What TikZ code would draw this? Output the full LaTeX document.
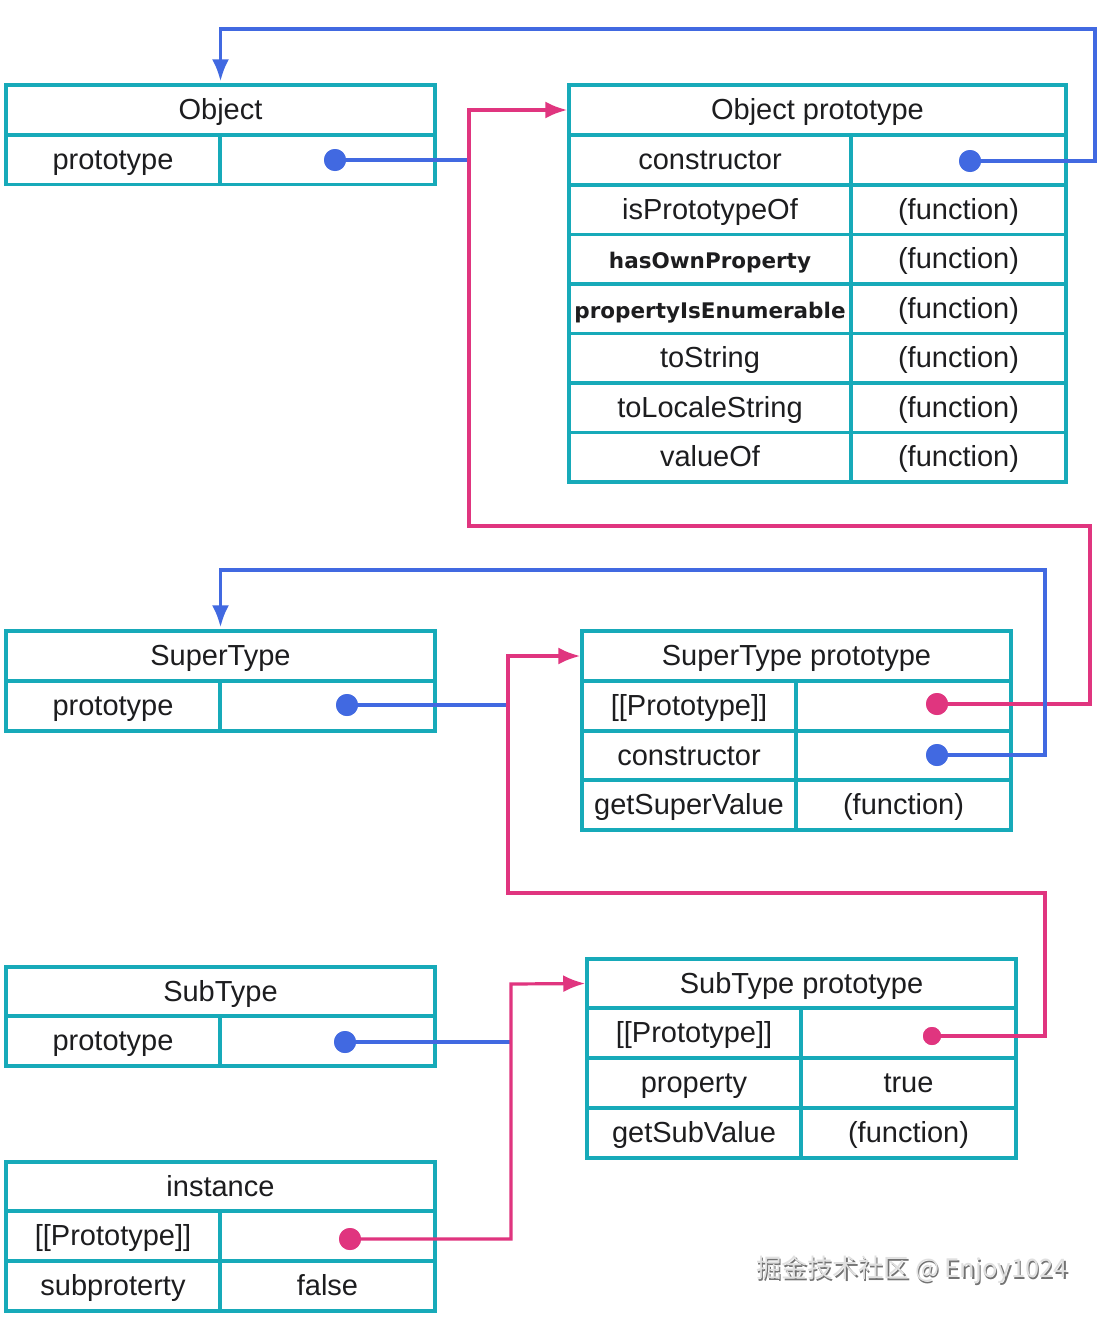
\documentclass[tikz,border=0pt]{standalone}
\usepackage{fontspec}
\setmainfont{Liberation Sans}
\newfontfamily\dvb{DejaVu Sans}
\newfontfamily\cjk{Noto Sans CJK SC}
\usetikzlibrary{arrows.meta}
\definecolor{tealc}{HTML}{17AAB9}
\definecolor{bluec}{HTML}{4169E1}
\definecolor{pinkc}{HTML}{E0357F}
\definecolor{txt}{HTML}{1D1D1F}
\begin{document}
\begin{tikzpicture}[x=1pt,y=-1pt,
  cell/.style={draw=tealc,line width=3.5pt,inner sep=0pt,text=txt,
    text height=22.5pt,text depth=3.5pt,
    font=\fontsize{29}{33}\selectfont},
  hcell/.style={cell,minimum width=429pt,minimum height=50pt},
  lcell/.style={cell,minimum width=214pt,minimum height=50pt},
  rcell/.style={cell,minimum width=215pt,minimum height=50pt},
  bdot/.style={circle,fill=bluec,inner sep=0pt,minimum size=22pt},
  pdot/.style={circle,fill=pinkc,inner sep=0pt,minimum size=22pt},
  bline/.style={draw=bluec,line width=3.2pt},
  pline/.style={draw=pinkc,line width=3.2pt},
  tip/.style={-{Latex[length=22pt,width=17pt]}},
  bf/.style={font=\dvb\bfseries\fontsize{21.5}{24}\selectfont}
]
\useasboundingbox (0,0) rectangle (1099,1317);
\fill[white] (0,0) rectangle (1099,1317);

% Object
\node[hcell] (objh) at (220.5,110) {Object};
\node[lcell,minimum height=49pt] (objk) at (113,160) {prototype};
\node[rcell,minimum height=49pt] (objv) at (327.5,160) {};

% Object prototype
\node[cell,minimum width=497pt,minimum height=50pt] (oph) at (817.5,110) {Object prototype};
\node[cell,minimum width=282pt,minimum height=49.5pt] (opk1) at (710,160) {constructor};
\node[rcell,minimum height=49.5pt] (opv1) at (958.5,160) {};
\node[cell,minimum width=282pt,minimum height=49.5pt] (opk2) at (710,209.5) {isPrototypeOf};
\node[rcell,minimum height=49.5pt] (opv2) at (958.5,209.5) {(function)};
\node[cell,bf,minimum width=282pt,minimum height=49.5pt] (opk3) at (710,259) {hasOwnProperty};
\node[rcell,minimum height=49.5pt] (opv3) at (958.5,259) {(function)};
\node[cell,bf,minimum width=282pt,minimum height=49.5pt] (opk4) at (710,308.5) {propertyIsEnumerable};
\node[rcell,minimum height=49.5pt] (opv4) at (958.5,308.5) {(function)};
\node[cell,minimum width=282pt,minimum height=49.5pt] (opk5) at (710,358) {toString};
\node[rcell,minimum height=49.5pt] (opv5) at (958.5,358) {(function)};
\node[cell,minimum width=282pt,minimum height=49.5pt] (opk6) at (710,407.5) {toLocaleString};
\node[rcell,minimum height=49.5pt] (opv6) at (958.5,407.5) {(function)};
\node[cell,minimum width=282pt,minimum height=49.5pt] (opk7) at (710,457) {valueOf};
\node[rcell,minimum height=49.5pt] (opv7) at (958.5,457) {(function)};

% SuperType
\node[hcell] (sth) at (220.5,656) {SuperType};
\node[lcell] (stk) at (113,706) {prototype};
\node[rcell] (stv) at (327.5,706) {};

% SuperType prototype
\node[hcell] (sph) at (796.5,656) {SuperType prototype};
\node[lcell] (spk1) at (689,706) {[[Prototype]]};
\node[rcell] (spv1) at (903.5,706) {};
\node[lcell,minimum height=49.5pt] (spk2) at (689,755.5) {constructor};
\node[rcell,minimum height=49.5pt] (spv2) at (903.5,755.5) {};
\node[lcell] (spk3) at (689,805) {getSuperValue};
\node[rcell] (spv3) at (903.5,805) {(function)};

% SubType
\node[hcell,minimum height=49pt] (sbh) at (220.5,991.5) {SubType};
\node[lcell] (sbk) at (113,1041) {prototype};
\node[rcell] (sbv) at (327.5,1041) {};

% SubType prototype
\node[hcell,minimum height=49pt] (sbph) at (801.5,983.5) {SubType prototype};
\node[lcell] (sbpk1) at (694,1033) {[[Prototype]]};
\node[rcell] (sbpv1) at (908.5,1033) {};
\node[lcell] (sbpk2) at (694,1083) {property};
\node[rcell] (sbpv2) at (908.5,1083) {true};
\node[lcell] (sbpk3) at (694,1133) {getSubValue};
\node[rcell] (sbpv3) at (908.5,1133) {(function)};

% instance
\node[hcell,minimum height=49pt] (inh) at (220.5,1186.5) {instance};
\node[lcell] (ink1) at (113,1236) {[[Prototype]]};
\node[rcell] (inv1) at (327.5,1236) {};
\node[lcell] (ink2) at (113,1286) {subproterty};
\node[rcell] (inv2) at (327.5,1286) {false};

% dots
\node[bdot] (objdot) at (335,160) {};
\node[bdot] (opdot) at (970,161) {};
\node[bdot] (stdot) at (347,705) {};
\node[pdot] (spdot1) at (937,704) {};
\node[bdot] (spdot2) at (937,755) {};
\node[bdot] (sbdot) at (345,1042) {};
\node[pdot,minimum size=18pt] (sbpdot) at (932,1036) {};
\node[pdot] (indot) at (350,1239) {};

% bend points
\coordinate (j1) at (468,160);
\coordinate (c1) at (1095,29);
\coordinate (c2) at (1090,526);
\coordinate (c3) at (469,110);
\coordinate (j2) at (508,705);
\coordinate (c4) at (1045,570);
\coordinate (c5) at (1045,893);
\coordinate (c6) at (508,656);
\coordinate (j3) at (510,1042);
\coordinate (c7) at (511,984);

% connectors
\draw[bline] (objdot.center) -- (j1);
\draw[bline,tip,shorten >=2pt] (opdot.center) -| (c1) -| (objh.north);
\draw[pline,tip] (spdot1.center) -| (c2) -| (c3) -- (oph.west);
\draw[bline] (stdot.center) -- (j2);
\draw[bline,tip,shorten >=2pt] (spdot2.center) -| (c4) -| (sth.north);
\draw[pline,tip] (sbpdot.center) -| (c5) -| (c6) -- (sph.west);
\draw[bline] (sbdot.center) -- (j3);
\draw[pline,tip] (indot.center) -| (c7) -- (sbph.west);

% redraw dots on top
\node[bdot] at (objdot) {};
\node[bdot] at (opdot) {};
\node[bdot] at (stdot) {};
\node[pdot] at (spdot1) {};
\node[bdot] at (spdot2) {};
\node[bdot] at (sbdot) {};
\node[pdot,minimum size=18pt] at (sbpdot) {};
\node[pdot] at (indot) {};

% watermark
\node[text=black!55,font=\cjk\fontsize{25.5}{29}\selectfont] (wmshadow) at (913.5,1271.5) {掘金技术社区 @ Enjoy1024};
\node[text=black!12,font=\cjk\fontsize{25.5}{29}\selectfont] (wm) at (912,1270) {掘金技术社区 @ Enjoy1024};
\end{tikzpicture}
\end{document}
